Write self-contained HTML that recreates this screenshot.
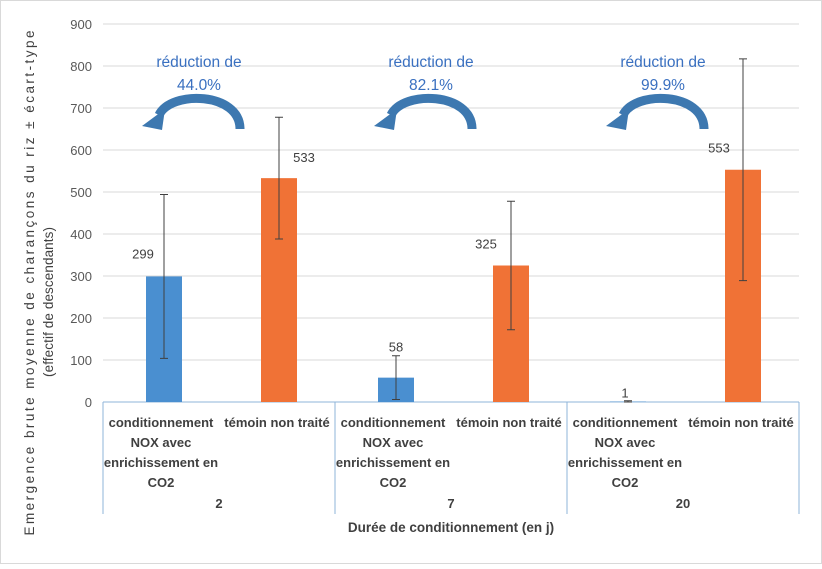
<!DOCTYPE html>
<html><head><meta charset="utf-8"><style>
body{margin:0;background:#fff;}
svg{font-family:"Liberation Sans",sans-serif;}
</style></head><body>
<svg width="822" height="564" viewBox="0 0 822 564">
<rect x="0.5" y="0.5" width="821" height="563" fill="#fff" stroke="#d9d9d9"/>
<g id="grid"></g><g id="bars"></g><g id="labels"></g>
<text transform="translate(34,283) rotate(-90)" text-anchor="middle" font-size="13.5" fill="#404040" textLength="505" lengthAdjust="spacing">Emergence brute moyenne de charançons du riz ± écart-type</text>
<text transform="translate(53,302) rotate(-90)" text-anchor="middle" font-size="13.5" fill="#404040" textLength="150" lengthAdjust="spacing">(effectif de descendants)</text>
<text x="451" y="532" text-anchor="middle" font-size="13.5" font-weight="bold" fill="#404040">Durée de conditionnement (en j)</text>
</svg>
<script>
const groups=["2","7","20"];
const treated=[299,58,1];
const treatedSd=[195,52,2];
const control=[533,325,553];
const controlSd=[145,153,264];
const reductions=["44.0%","82.1%","99.9%"];
const yTicks=[0,100,200,300,400,500,600,700,800,900];
const NS="http://www.w3.org/2000/svg";
const x0=103,gw=232,y0=402,ppu=0.42;
const Y=v=>y0-v*ppu;
const tLbl=[[-21,-18],[0,-26],[-3,-4]];
const cLbl=[[25,-16],[-25,-17],[-24,-17]];
function mk(tag,at,parent,txt){const e=document.createElementNS(NS,tag);for(const k in at)e.setAttribute(k,at[k]);if(txt!==undefined)e.textContent=txt;parent.appendChild(e);return e;}
const G=document.getElementById('grid'),B=document.getElementById('bars'),L=document.getElementById('labels');
yTicks.forEach(t=>{
 if(t>0){const l=mk('line',{x1:x0,x2:x0+3*gw,y1:Y(t),y2:Y(t),stroke:'#d9d9d9'},G);
 
 }
 const tx=mk('text',{x:92,y:Y(t)+5,'text-anchor':'end','font-size':13,fill:'#595959'},G,t);
 
 
});
const ax=mk('line',{x1:x0,x2:x0+3*gw,y1:y0,y2:y0,stroke:'#8fb4d8'},G);


for(let i=0;i<=3;i++){const l=mk('line',{x1:x0+i*gw,x2:x0+i*gw,y1:y0,y2:514,stroke:'#8fb4d8'},G);
 
 }
function bar(cx,v,sd,color,name,off){
 const r=mk('rect',{x:cx-18,y:Y(v),width:36,height:v*ppu,fill:color},B);
 
 
 const top=Y(v+sd),bot=Y(Math.max(0,v-sd));
 const e=mk('path',{d:`M${cx},${top}V${bot}M${cx-4},${top}H${cx+4}M${cx-4},${bot}H${cx+4}`,stroke:'#404040','stroke-width':1,fill:'none'},B);
 
 
 const t=mk('text',{x:cx+off[0],y:Y(v)+off[1],'text-anchor':'middle','font-size':13,fill:'#404040'},L,v);
 
 
}
groups.forEach((g,i)=>{
 const gx=x0+i*gw;
 bar(gx+61,treated[i],treatedSd[i],'#4a8fd0','bar-treated-'+g,tLbl[i]);
 bar(gx+176,control[i],controlSd[i],'#f07236','bar-control-'+g,cLbl[i]);
 const l1=['conditionnement','NOX avec','enrichissement en','CO2'];
 l1.forEach((s,k)=>{const t=mk('text',{x:gx+58,y:427+k*20,'text-anchor':'middle','font-size':13,'font-weight':'bold',fill:'#404040'},L,s);
  
  });
 const c=mk('text',{x:gx+174,y:427,'text-anchor':'middle','font-size':13,'font-weight':'bold',fill:'#404040'},L,'témoin non traité');
 
 
 const gl=mk('text',{x:gx+116,y:508,'text-anchor':'middle','font-size':13,'font-weight':'bold',fill:'#404040'},L,g);
 
 
 const r1=mk('text',{x:gx+96,y:67,'text-anchor':'middle','font-size':15.5,fill:'#3a70c0'},L,'réduction de');
 
 
 const r2=mk('text',{x:gx+96,y:90,'text-anchor':'middle','font-size':15.5,fill:'#3a70c0'},L,reductions[i]);
 
 
 const a=mk('path',{d:`M${gx+137},${129} C${gx+137},${92} ${gx+68},${90} ${gx+56},${115}`,stroke:'#3d78b0','stroke-width':9,fill:'none'},L);
 
 
 const h=mk('polygon',{points:`${gx+39},${126} ${gx+62},${109} ${gx+59},${130}`,fill:'#3d78b0'},L);
 
 
});
</script>
</body></html>
